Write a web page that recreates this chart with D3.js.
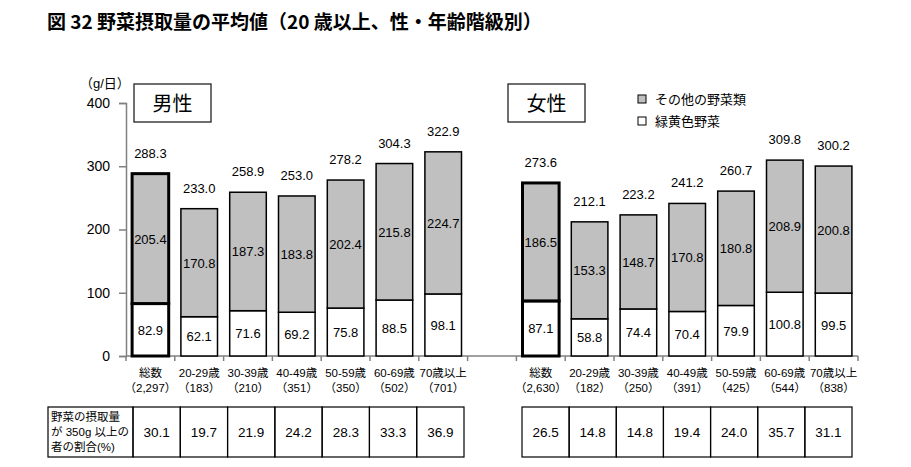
<!DOCTYPE html>
<html lang="ja">
<head>
<meta charset="UTF-8">
<title>野菜摂取量の平均値</title>
<script src="https://cdn.jsdelivr.net/npm/d3@7"></script>
<style>
  body { margin: 0; background: #fff; }
  text { font-family: "Liberation Sans", Arial, "Noto Sans CJK JP", sans-serif; fill: #000; }
</style>
</head>
<body>
<div id="chart"></div>
<script>
// --- data ---
const ageGroups = ["総数", "20-29歳", "30-39歳", "40-49歳", "50-59歳", "60-69歳", "70歳以上"];
const menCounts = ["2,297", "183", "210", "351", "350", "502", "701"];
const womenCounts = ["2,630", "182", "250", "391", "425", "544", "838"];
const menGreen = [82.9, 62.1, 71.6, 69.2, 75.8, 88.5, 98.1];
const menOther = [205.4, 170.8, 187.3, 183.8, 202.4, 215.8, 224.7];
const menTotal = [288.3, 233.0, 258.9, 253.0, 278.2, 304.3, 322.9];
const womenGreen = [87.1, 58.8, 74.4, 70.4, 79.9, 100.8, 99.5];
const womenOther = [186.5, 153.3, 148.7, 170.8, 180.8, 208.9, 200.8];
const womenTotal = [273.6, 212.1, 223.2, 241.2, 260.7, 309.8, 300.2];
const menRate = ["30.1", "19.7", "21.9", "24.2", "28.3", "33.3", "36.9"];
const womenRate = ["26.5", "14.8", "14.8", "19.4", "24.0", "35.7", "31.1"];
const yTicks = [0, 100, 200, 300, 400];

const W = 911, H = 467;
const svg = d3.select("#chart").append("svg")
  .attr("width", W).attr("height", H);

// title
svg.append("text")
  .attr("x", 47).attr("y", 29)
  .style("font-family", "'Noto Sans CJK JP', sans-serif")
  .style("font-size", "19px").style("font-weight", "bold")
  .text("図 32  野菜摂取量の平均値（20 歳以上、性・年齢階級別）");

// rows: men 0..6, blank, women 0..6
const rows = [];
ageGroups.forEach((g, i) => rows.push({ key: "m" + i, label: g, n: menCounts[i], green: menGreen[i], other: menOther[i], total: menTotal[i], first: i === 0 }));
rows.push({ key: "gap" });
ageGroups.forEach((g, i) => rows.push({ key: "w" + i, label: g, n: womenCounts[i], green: womenGreen[i], other: womenOther[i], total: womenTotal[i], first: i === 0 }));
const bars = rows.filter(r => r.key !== "gap");

const x = d3.scaleBand()
  .domain(rows.map(r => r.key))
  .range([126, 858])
  .paddingInner(0.25)
  .paddingOuter(0.125);

const y = d3.scaleLinear().domain([0, 400]).range([356, 103]);

// y axis
const yAxis = svg.append("g")
  .attr("transform", "translate(126,0)")
  .call(d3.axisLeft(y).tickValues(yTicks).tickSize(7).tickPadding(9));
yAxis.select(".domain").attr("stroke", "#808080").attr("stroke-width", 1.5);
yAxis.selectAll(".tick line").attr("stroke", "#808080").attr("stroke-width", 1.5);
yAxis.selectAll(".tick text").style("font-size", "14px").attr("fill", "#000");

svg.append("text")
  .attr("x", 80).attr("y", 88)
  .style("font-size", "13px")
  .text("（g/日）");

// x axis line with ticks at category boundaries
const step = x.step();
const xr = x.range();
svg.append("line")
  .attr("x1", xr[0]).attr("x2", xr[1])
  .attr("y1", y(0)).attr("y2", y(0))
  .attr("stroke", "#808080").attr("stroke-width", 1.5);
svg.selectAll(".xtick")
  .data(d3.range(rows.length + 1))
  .join("line")
  .attr("class", "xtick")
  .attr("x1", i => xr[0] + i * step).attr("x2", i => xr[0] + i * step)
  .attr("y1", y(0)).attr("y2", y(0) + 5)
  .attr("stroke", "#808080").attr("stroke-width", 1.5);

// bars
const g = svg.append("g");
g.selectAll(".green")
  .data(bars).join("rect")
  .attr("x", d => x(d.key))
  .attr("width", x.bandwidth())
  .attr("y", d => y(d.green))
  .attr("height", d => y(0) - y(d.green))
  .attr("fill", "#fff")
  .attr("stroke", "#000")
  .attr("stroke-width", d => d.first ? 3 : 1.5);
g.selectAll(".other")
  .data(bars).join("rect")
  .attr("x", d => x(d.key))
  .attr("width", x.bandwidth())
  .attr("y", d => y(d.green + d.other))
  .attr("height", d => y(d.green) - y(d.green + d.other))
  .attr("fill", "#c0c0c0")
  .attr("stroke", "#000")
  .attr("stroke-width", d => d.first ? 3 : 1.5);

// value labels
const cx = d => x(d.key) + x.bandwidth() / 2;
g.selectAll(".lg").data(bars).join("text")
  .attr("x", cx).attr("y", d => (y(0) + y(d.green)) / 2 + 5)
  .attr("text-anchor", "middle").style("font-size", "13px")
  .text(d => d.green.toFixed(1));
g.selectAll(".lo").data(bars).join("text")
  .attr("x", cx).attr("y", d => (y(d.green) + y(d.green + d.other)) / 2 + 5)
  .attr("text-anchor", "middle").style("font-size", "13px")
  .text(d => d.other.toFixed(1));
g.selectAll(".lt").data(bars).join("text")
  .attr("x", cx).attr("y", d => y(d.total) - 16)
  .attr("text-anchor", "middle").style("font-size", "13px")
  .text(d => d.total.toFixed(1));

// category labels
g.selectAll(".cat1").data(bars).join("text")
  .attr("x", cx).attr("y", 377)
  .attr("text-anchor", "middle").style("font-size", "11.5px")
  .text(d => d.label);
g.selectAll(".cat2").data(bars).join("text")
  .attr("x", cx).attr("y", 392)
  .attr("text-anchor", "middle").style("font-size", "11.5px")
  .text(d => "（" + d.n + "）");

// gender boxes
[["男性", 134], ["女性", 508]].forEach(([t, bx]) => {
  svg.append("rect")
    .attr("x", bx).attr("y", 84).attr("width", 77).attr("height", 38)
    .attr("fill", "#fff").attr("stroke", "#222").attr("stroke-width", 1.3);
  svg.append("text")
    .attr("x", bx + 38.5).attr("y", 111)
    .attr("text-anchor", "middle")
    .style("font-family", "'Noto Sans CJK JP', sans-serif")
    .style("font-size", "20px")
    .text(t);
});

// legend
[["その他の野菜類", "#c0c0c0", 99], ["緑黄色野菜", "#fff", 121]].forEach(([t, c, ly]) => {
  svg.append("rect")
    .attr("x", 638).attr("y", ly - 4).attr("width", 8).attr("height", 8)
    .attr("fill", c).attr("stroke", "#000").attr("stroke-width", 1);
  svg.append("text")
    .attr("x", 655).attr("y", ly + 5)
    .style("font-size", "13px")
    .text(t);
});

// table
const rowTop = 407, rowH = 50;
function drawTable(x0, x1, vals) {
  const tx = d3.scaleBand().domain(d3.range(vals.length)).range([x0, x1]);
  const t = svg.append("g");
  t.selectAll("rect").data(vals).join("rect")
    .attr("x", (d, i) => tx(i)).attr("y", rowTop)
    .attr("width", tx.bandwidth()).attr("height", rowH)
    .attr("fill", "none").attr("stroke", "#000").attr("stroke-width", 1.2);
  t.selectAll("text").data(vals).join("text")
    .attr("x", (d, i) => tx(i) + tx.bandwidth() / 2)
    .attr("y", rowTop + rowH / 2 + 5)
    .attr("text-anchor", "middle").style("font-size", "13.5px")
    .text(d => d);
}
svg.append("rect")
  .attr("x", 48).attr("y", rowTop).attr("width", 85).attr("height", rowH)
  .attr("fill", "none").attr("stroke", "#000").attr("stroke-width", 1.2);
["野菜の摂取量", "が 350g 以上の", "者の割合(%)"].forEach((t, i) => {
  svg.append("text")
    .attr("x", 51).attr("y", rowTop + 14 + i * 15)
    .style("font-size", "11.5px")
    .text(t);
});
drawTable(133, 464, menRate);
drawTable(522, 852, womenRate);
</script>
</body>
</html>
